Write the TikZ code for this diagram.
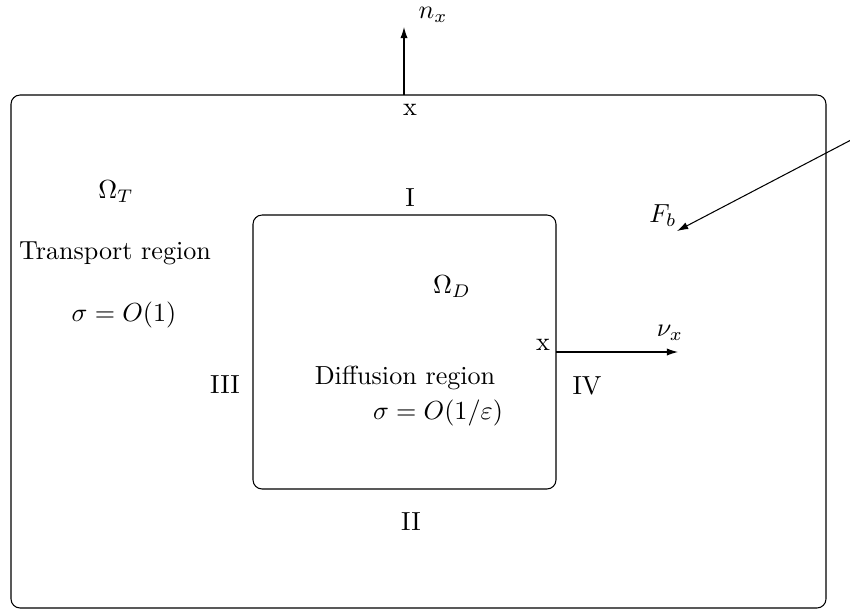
\documentclass[tikz,border=0pt]{standalone}
\usepackage{amsmath,amssymb}
\usepackage{tikz}
\usetikzlibrary{arrows.meta,positioning,calc}

\begin{document}
\begin{tikzpicture}[
    x=0.383pt, y=-0.383pt,
    every node/.style={inner sep=1pt},
    region/.style={draw, line width=0.4pt, rounded corners=3.5pt},
    arrow/.style={-{Latex[length=4.3pt,width=2.8pt]}, line width=0.4pt}
]
\useasboundingbox (0,0) rectangle (850,613);
% domains
\draw[region] (11,95) rectangle (826,608);
\draw[region] (253,215) rectangle (556,489);
% points on the boundaries
\coordinate (top) at (404,95);
\coordinate (ntip) at (404,27);
\coordinate (side) at (556,352);
\coordinate (nutip) at (678,352);
\coordinate (fstart) at (851,140);
\coordinate (ftip) at (677,231);
\draw[arrow] (top) -- (ntip);
\draw[arrow] (side) -- (nutip);
\draw[arrow] (fstart) -- (ftip);
% labels
\node (nx) at (433,15) {$n_x$};
\node (xtop) at (410,110) {x};
\node (xside) at (543,345) {x};
\node (nux) at (670,333) {$\nu_x$};
\node (fb) at (663,216) {$F_b$};
\node (omT) at (116,192) {$\Omega_T$};
\node (trans) at (115,253) {Transport region};
\node (sigT) at (124,315) {$\sigma=O(1)$};
\node (omD) at (452,287) {$\Omega_D$};
\node (diff) at (405,378) {Diffusion region};
\node (sigD) at (438,413) {$\sigma=O(1/\varepsilon)$};
\node (one) at (410,198) {I};
\node (two) at (411,522) {II};
\node (three) at (225,385) {III};
\node (four) at (587,386) {IV};
\end{tikzpicture}
\end{document}
